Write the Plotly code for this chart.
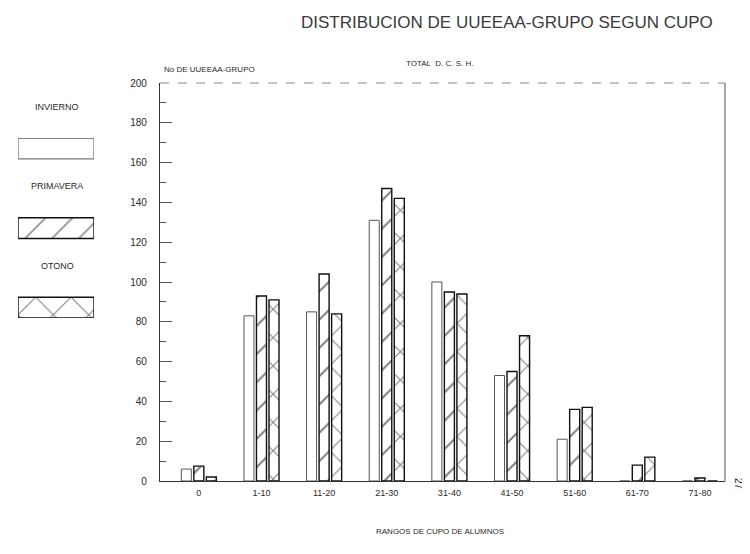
import plotly.graph_objects as go

categories = ["0", "1-10", "11-20", "21-30", "31-40", "41-50", "51-60", "61-70", "71-80"]
invierno = [6, 83, 85, 131, 100, 53, 21, 0, 0]
primavera = [7.5, 93, 104, 147, 95, 55, 36, 8, 1.5]
otono = [2, 91, 84, 142, 94, 73, 37, 12, 0]
series_names = ["INVIERNO", "PRIMAVERA", "OTONO"]
y_ticks = list(range(0, 201, 20))

FONT = "Liberation Sans, Arial, sans-serif"
INK = "#2a2a2a"

# page is shown with an 8px body margin; work in page pixels
OFF = 8
W, H = 750 - OFF, 554 - OFF
PL, PR, PT, PB = 160, 725, 83, 481     # plot area in page px
LX0 = 18                               # left edge of paper in page px


def px(X):
    return (X - LX0) / (PR - LX0)


def py(Y):
    return (PB - Y) / (PB - PT)


fig = go.Figure()

styles = [
    dict(shape="", line=dict(color="#555555", width=1.0)),
    dict(shape="/", line=dict(color="#111111", width=1.4)),
    dict(shape="x", line=dict(color="#111111", width=1.4)),
]
for name, vals, st in zip(series_names, [invierno, primavera, otono], styles):
    fig.add_trace(go.Bar(
        x=categories, y=vals, name=name,
        marker=dict(color="white", line=st["line"],
                    pattern=dict(shape=st["shape"], size=20, solidity=0.1,
                                 fgcolor="#000000", bgcolor="white", fillmode="overlay")),
        showlegend=False,
    ))

# legend-like swatches on a small side axis
leg_sizes = [20, 19, 25]
for i, (name, st) in enumerate(zip(series_names, styles)):
    fig.add_trace(go.Bar(
        x=[1], y=[i], orientation="h", width=0.26,
        xaxis="x2", yaxis="y2", showlegend=False, hoverinfo="skip",
        marker=dict(color="white", line=st["line"],
                    pattern=dict(shape=st["shape"], size=leg_sizes[i], solidity=0.08,
                                 fgcolor="#000000", bgcolor="white", fillmode="overlay")),
    ))

annotations = []
for name, ytext in zip(series_names, [107, 186, 266]):
    annotations.append(dict(text=name, x=px(57), y=py(ytext), xref="paper", yref="paper",
                            showarrow=False, xanchor="center", yanchor="middle",
                            font=dict(family=FONT, size=9, color=INK)))

annotations += [
    dict(text="DISTRIBUCION DE UUEEAA-GRUPO SEGUN CUPO", x=px(507), y=py(22),
         xref="paper", yref="paper", showarrow=False, xanchor="center", yanchor="middle",
         font=dict(family=FONT, size=17, color="#3a3a3a")),
    dict(text="TOTAL  D. C. S. H.", x=px(440), y=py(63),
         xref="paper", yref="paper", showarrow=False, xanchor="center", yanchor="middle",
         font=dict(family=FONT, size=8, color=INK)),
    dict(text="No DE UUEEAA-GRUPO", x=px(162), y=py(70),
         xref="paper", yref="paper", showarrow=False, xanchor="left", yanchor="middle",
         font=dict(family=FONT, size=8, color=INK)),
    dict(text="RANGOS DE CUPO DE ALUMNOS", x=px(440), y=py(531),
         xref="paper", yref="paper", showarrow=False, xanchor="center", yanchor="middle",
         font=dict(family=FONT, size=8, color=INK)),
    dict(text="27", x=px(739), y=py(484), textangle=90,
         xref="paper", yref="paper", showarrow=False, xanchor="center", yanchor="middle",
         font=dict(family=FONT, size=10, color=INK)),
]

fig.update_layout(
    width=W, height=H,
    margin=dict(l=LX0 - OFF, r=(W + OFF) - PR, t=PT - OFF, b=(H + OFF) - PB),
    paper_bgcolor="white", plot_bgcolor="white",
    barmode="group", bargap=0.4, bargroupgap=0.2,
    font=dict(family=FONT, size=10, color=INK),
    xaxis=dict(type="category", domain=[px(PL), 1], range=[-0.62, 8.4],
               showgrid=False, showline=True, linecolor="#333333", linewidth=1.2,
               ticks="", tickfont=dict(family=FONT, size=9, color=INK),
               ticklabelstandoff=3, zeroline=False, automargin=False),
    yaxis=dict(range=[0, 200], tickvals=y_ticks, showgrid=False, zeroline=False,
               showline=True, linecolor="#333333", linewidth=1.2,
               ticks="inside", ticklen=12, tickcolor="#555555", tickwidth=1,
               minor=dict(dtick=10, ticks="inside", ticklen=6, tickcolor="#555555"),
               ticklabelstandoff=10, tickfont=dict(family=FONT, size=10, color=INK),
               automargin=False),
    xaxis2=dict(domain=[px(18), px(94)], range=[0, 1], anchor="y2",
                visible=False, fixedrange=True),
    yaxis2=dict(domain=[py(318), py(138)], range=[2.13, -0.133],
                anchor="x2", visible=False, fixedrange=True),
    annotations=annotations,
    shapes=[
        dict(type="line", xref="x domain", yref="y domain", x0=0, x1=1, y0=1, y1=1,
             line=dict(color="#888888", width=1, dash="dash")),
        dict(type="line", xref="x domain", yref="y domain", x0=1, x1=1, y0=0, y1=1,
             line=dict(color="#555555", width=1)),
    ],
)

fig.write_html("out.html")
